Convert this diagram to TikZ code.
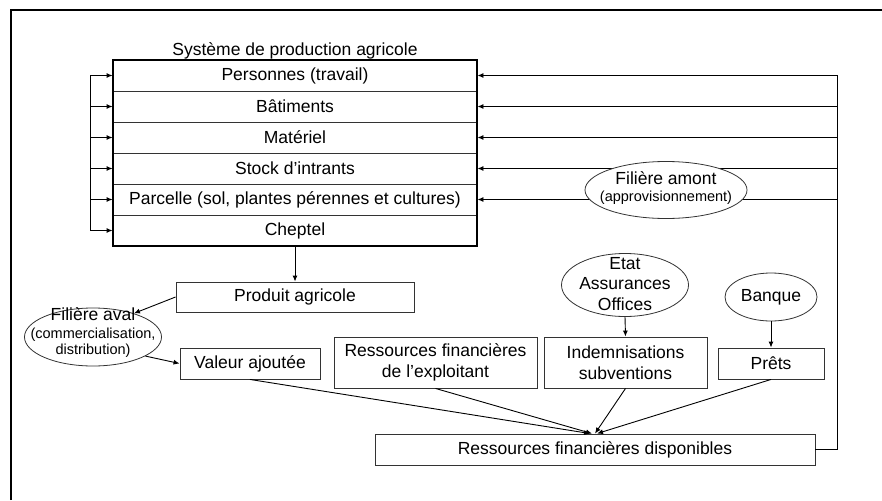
\documentclass[tikz,border=0pt]{standalone}
\usepackage{fontspec}
\setmainfont{Liberation Sans}
\usetikzlibrary{shapes.geometric,arrows.meta}
\newcommand{\grand}{\fontsize{17.5}{20.5}\selectfont}
\newcommand{\petit}{\fontsize{14.5}{17}\selectfont}
\tikzset{box/.style={draw=black!80, line width=0.9pt, minimum height=31pt, inner sep=0pt, align=center, fill=white},
rowbox/.style={draw=black!80, line width=0.9pt, minimum width=364pt, minimum height=31pt, inner sep=0pt},
oval/.style={ellipse, draw=black!80, line width=0.8pt, fill=white, inner sep=0pt},
lien/.style={-{Latex[length=6pt,width=5pt]}, line width=0.9pt}}

\begin{document}
\begin{tikzpicture}[x=1pt,y=-1pt,every node/.style={font=\grand}]
\useasboundingbox (0,0) rectangle (882,500);
% cadre
\draw[line width=2pt] (11,500) -- (11,10) -- (882,10);

% systeme de production
\foreach \texte [count=\i] in {Personnes (travail), Bâtiments, Matériel, Stock d’intrants,
  {Parcelle (sol, plantes pérennes et cultures)}, Cheptel}
  \node[rowbox] (r\i) at (295,44.5+31*\i) {\texte};
\draw[line width=2pt] (r1.north west) rectangle (r6.south east);
\node[anchor=base, inner sep=0pt] (titre) at ([yshift=4.5pt]r1.north) {Système de production agricole};

% boucle a gauche
\draw[line width=0.9pt] ([xshift=-22pt]r1.west) -- ([xshift=-22pt]r6.west);
\foreach \i in {1,...,6}
  \draw[lien] ([xshift=-22pt]r\i.west) -- (r\i.west);

% boites du bas
\node[box, minimum width=238pt, minimum height=30pt] (produit) at (295,297) {Produit agricole};
\node[box, minimum width=140pt] (valeur) at (250,363.5) {Valeur ajoutée};
\node[box, minimum width=203pt, minimum height=51pt] (exploitant) at (435.5,362.5) {Ressources financières\\de l’exploitant};
\node[box, minimum width=163pt, minimum height=51pt] (indemn) at (625.5,362.5) {Indemnisations\\subventions};
\node[box, minimum width=106pt] (prets) at (771,363.5) {Prêts};
\node[box, minimum width=440pt] (dispo) at (595,449.5) {Ressources financières disponibles};

% retour vers le systeme
\coordinate (droite) at (837,449.5);
\draw[line width=0.9pt] (dispo.east) -- (droite) -- (r1.east -| droite);
\foreach \i in {1,...,5}
  \draw[lien] (r\i.east -| droite) -- (r\i.east);

% ellipses
\node[oval, minimum width=162pt, minimum height=57pt] (amont) at (666,190) {};
\node[align=center, inner sep=0pt] (amonttxt) at (666,188) {Filière amont\\[-3pt]{\petit (approvisionnement)}};
\node[oval, minimum width=137pt, minimum height=58pt] (aval) at (93,337) {};
\node[align=center, inner sep=0pt] (avaltxt) at (93,333) {Filière aval\\[-3pt]{\petit (commercialisation,}\\[-4pt]{\petit distribution)}};
\node[oval, minimum width=127pt, minimum height=63pt] (etat) at (625,285) {};
\node[align=center, inner sep=0pt] (etattxt) at (625,284) {Etat\\Assurances\\Offices};
\node[oval, minimum width=92pt, minimum height=48pt] (banque) at (771,297) {};
\node[inner sep=0pt] (banquetxt) at (771,297) {Banque};

% fleches
\draw[lien] (r6.south) -- (produit.north);
\draw[lien] (produit.west) -- (aval.30);
\draw[lien] (aval.-20) -- (valeur.west);
\draw[lien] (etat.south) -- (indemn.north);
\draw[lien] (banque.south) -- (prets.north);
\draw[lien] (valeur.south) -- ([xshift=-5pt]dispo.north);
\draw[lien] (exploitant.south) -- ([xshift=-3pt]dispo.north);
\draw[lien] (indemn.south) -- (dispo.north);
\draw[lien] (prets.south) -- ([xshift=2pt]dispo.north);
\end{tikzpicture}
\end{document}
